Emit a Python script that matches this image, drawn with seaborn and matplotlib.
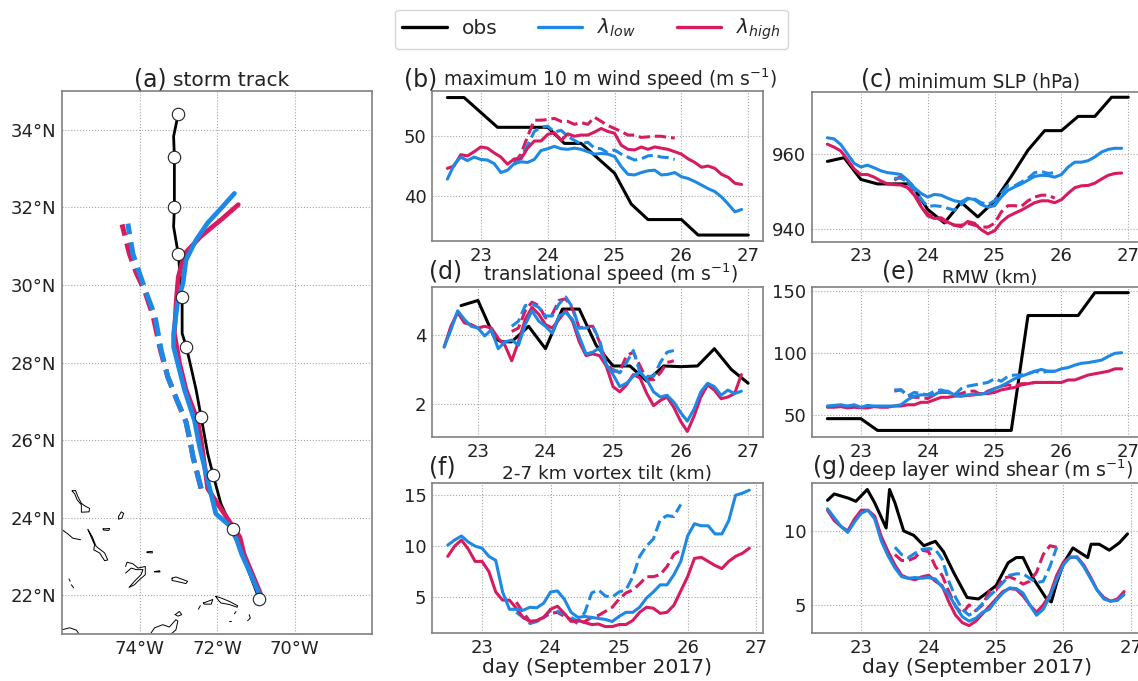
"""Storm track and intensity panels, lambda_low / lambda_high runs vs obs."""

import matplotlib.pyplot as plt
import seaborn as sns

BLUE = "#1E88E5"
RED = "#D81B60"
W, H = 1138, 681

sim_days = [22.5, 22.6, 22.7, 22.8, 22.9, 23.0, 23.1, 23.2, 23.3, 23.4, 23.5, 23.6, 23.7, 23.8, 23.9,
            24.0, 24.1, 24.2, 24.3, 24.4, 24.5, 24.6, 24.7, 24.8, 24.9, 25.0, 25.1, 25.2, 25.3, 25.4,
            25.5, 25.6, 25.7, 25.8, 25.9, 26.0, 26.1, 26.2, 26.3, 26.4, 26.5, 26.6, 26.7, 26.8, 26.9]
fcst_days = [23.5, 23.6, 23.7, 23.8, 23.9, 24.0, 24.1, 24.2, 24.3, 24.4, 24.5, 24.6, 24.7, 24.8, 24.9,
             25.0, 25.1, 25.2, 25.3, 25.4, 25.5, 25.6, 25.7, 25.8, 25.9]
obs_days = [22.5, 22.75, 23.0, 23.25, 23.5, 23.75, 24.0, 24.25, 24.5, 24.75, 25.0, 25.25, 25.5, 25.75,
            26.0, 26.25, 26.5, 26.75, 27.0]

# (a) track
obs_lon = [-70.91, -71.6, -71.9, -72.1, -72.24, -72.41, -72.54, -72.79, -72.9, -72.9, -72.97, -73.0,
           -73.12, -73.1, -73.1, -73.12, -73.0]
obs_lat = [21.9, 23.7, 24.36, 25.1, 25.65, 26.6, 27.3, 28.4, 28.75, 29.69, 30.47, 30.8, 31.5, 32.0,
           33.31, 33.83, 34.41]
daily_lon = [-70.91, -71.6, -72.1, -72.41, -72.79, -72.9, -73.0, -73.1, -73.1, -73.0]
daily_lat = [21.9, 23.7, 25.1, 26.6, 28.4, 29.69, 30.8, 32.0, 33.31, 34.41]
low_lon = [-70.87, -71.21, -71.36, -71.5, -71.68, -72.03, -72.2, -72.45, -72.58, -72.84, -73.01, -73.12,
           -73.12, -73.01, -72.88, -72.8, -72.54, -72.24, -71.9, -71.55]
low_lat = [21.94, 22.72, 23.05, 23.45, 23.8, 24.1, 24.8, 25.83, 26.5, 27.3, 27.97, 28.4, 28.75, 29.6,
           30.03, 30.64, 31.16, 31.6, 31.97, 32.36]
high_lon = [-70.82, -71.3, -71.41, -71.98, -72.24, -72.41, -72.5, -72.8, -72.97, -73.1, -73.05, -73.0,
            -72.84, -72.42, -71.85, -71.45]
high_lat = [21.9, 23.05, 23.5, 24.35, 24.75, 26.0, 26.5, 27.3, 28.0, 28.75, 29.6, 30.2, 30.8, 31.25,
            31.72, 32.07]
low_f_lon = [-72.41, -72.62, -72.7, -72.8, -73.05, -73.27, -73.44, -73.6, -73.79, -74.0, -74.17, -74.3]
low_f_lat = [24.75, 25.57, 26.0, 26.47, 27.07, 27.63, 28.32, 29.2, 29.7, 30.3, 30.8, 31.58]
high_f_lon = [-72.41, -72.62, -72.7, -72.8, -73.05, -73.27, -73.46, -73.65, -73.87, -74.08, -74.26, -74.45]
high_f_lat = [24.75, 25.57, 26.0, 26.47, 27.07, 27.63, 28.32, 29.2, 29.86, 30.3, 30.8, 31.56]

islands = [
    ([-75.74, -75.65, -75.59, -75.5, -75.39, -75.29, -75.3, -75.5, -75.5, -75.61, -75.67, -75.74],
     [24.69, 24.70, 24.54, 24.37, 24.29, 24.24, 24.15, 24.14, 24.33, 24.46, 24.61, 24.69]),
    ([-74.54, -74.47, -74.41, -74.45, -74.54, -74.54], [24.03, 24.15, 24.11, 23.99, 23.96, 24.03]),
    ([-76.0, -75.85, -75.72, -75.52], [23.69, 23.58, 23.47, 23.43]),
    ([-75.33, -75.22, -75.12, -74.9, -74.82, -74.9, -75.03, -75.18, -75.16, -75.33],
     [23.69, 23.51, 23.26, 23.09, 22.91, 22.89, 23.09, 23.17, 23.3, 23.69]),
    ([-74.94, -74.77, -74.79, -74.93, -74.94], [23.71, 23.72, 23.67, 23.68, 23.71]),
    ([-73.81, -73.67, -73.67, -73.81], [23.12, 23.13, 23.09, 23.1]),
    ([-74.36, -74.32, -74.17, -74.04, -73.85, -73.85, -74.0, -74.13, -74.27, -74.13, -73.96, -73.91, -74.09,
      -74.21, -74.36],
     [22.74, 22.85, 22.81, 22.7, 22.74, 22.53, 22.4, 22.27, 22.2, 22.36, 22.53, 22.66, 22.66, 22.7, 22.57]),
    ([-73.61, -73.48, -73.47, -73.61], [22.61, 22.63, 22.6, 22.6]),
    ([-73.16, -73.06, -72.76, -72.8, -73.06, -73.16, -73.16], [22.44, 22.47, 22.36, 22.3, 22.36, 22.38, 22.44]),
    ([-75.82, -75.79], [22.42, 22.36]),
    ([-75.76, -75.7], [22.27, 22.19]),
    ([-72.48, -72.43], [21.64, 21.73]),
    ([-72.35, -72.24, -72.11, -72.15, -72.33, -72.35], [21.8, 21.84, 21.89, 21.77, 21.77, 21.8]),
    ([-72.03, -71.9, -71.68, -71.47, -71.48, -71.68, -71.9, -71.98, -72.03],
     [21.97, 21.93, 21.84, 21.73, 21.69, 21.76, 21.8, 21.89, 21.97]),
    ([-71.55, -71.51], [21.52, 21.58]),
    ([-71.17, -71.14, -71.21], [21.5, 21.41, 21.34]),
    ([-71.7, -71.64], [21.33, 21.33]),
    ([-73.08, -72.97, -72.91, -73.01, -73.08], [21.5, 21.58, 21.5, 21.46, 21.5]),
    ([-73.7, -73.61, -73.4, -73.23, -73.06, -73.01, -73.06, -73.18],
     [21.03, 21.16, 21.24, 21.18, 21.37, 21.33, 21.11, 21.0]),
    ([-76.0, -75.8, -75.63, -75.56], [21.11, 21.16, 21.1, 21.0]),
]

# (b) maximum 10 m wind speed
wind_obs = [56.5, 56.5, 54.0, 51.5, 51.5, 51.5, 51.5, 48.8, 48.8, 46.3, 43.8, 38.6, 36.0, 36.0, 36.0,
            33.4, 33.4, 33.4, 33.4]
wind_low = [42.8, 45.2, 46.5, 45.9, 46.5, 46.1, 46.0, 45.4, 43.9, 44.3, 45.4, 45.7, 45.6, 46.1, 47.6,
            47.9, 48.3, 47.9, 47.8, 48.0, 47.8, 47.4, 47.0, 47.1, 47.0, 46.6, 44.9, 43.6, 43.5, 43.9,
            44.2, 44.3, 43.5, 43.6, 43.9, 43.2, 42.9, 42.4, 41.8, 41.2, 40.7, 39.8, 38.6, 37.3, 37.7]
wind_high = [44.6, 45.0, 46.9, 46.7, 47.4, 48.2, 48.0, 47.2, 46.5, 45.3, 46.2, 46.2, 48.0, 49.2, 49.2,
             50.3, 50.6, 49.3, 50.4, 50.0, 50.2, 50.2, 50.7, 51.3, 50.8, 50.5, 48.5, 47.8, 47.7, 48.2,
             47.8, 48.2, 48.0, 47.8, 47.4, 47.0, 46.2, 45.6, 44.8, 45.0, 44.6, 43.6, 43.1, 42.1, 41.9]
wind_low_f = [45.2, 46.5, 48.5, 50.8, 51.5, 51.7, 50.7, 51.0, 50.0, 49.3, 48.7, 49.0, 48.0, 47.9, 47.2,
              47.7, 47.0, 46.5, 46.0, 46.2, 46.7, 46.8, 46.5, 46.4, 46.1]
wind_high_f = [45.5, 47.0, 50.0, 52.7, 52.7, 52.8, 53.0, 52.5, 52.5, 52.0, 52.3, 52.0, 53.2, 52.5, 51.8,
               51.3, 50.8, 50.2, 50.2, 49.8, 49.9, 50.0, 50.0, 49.8, 49.7]

# (c) minimum SLP
slp_obs = [958, 959, 953.2, 952, 952, 952, 945.2, 941.6, 947.1, 943.2, 947.4, 954, 961, 966.2, 966.2,
           970, 970, 975.1, 975.1]
slp_low = [964.3, 964, 962.5, 960, 957.5, 956.5, 957, 956.3, 955.5, 955, 954.8, 954.5, 953, 951, 949.5,
           948.5, 949.2, 949.0, 948.2, 947.5, 947.2, 948.2, 947.8, 946.5, 945.8, 946.2, 948.5, 950.3, 951.2, 952,
           953, 954, 954.3, 954.2, 953.8, 954.5, 956.5, 957.8, 957.8, 958.2, 959.2, 960.5, 961.2, 961.5, 961.5]
slp_high = [962.6, 961.8, 960.8, 958.5, 956, 954.5, 954.5, 953.8, 952.8, 952, 951.8, 951.7, 951, 949, 946,
            943.5, 942.8, 943, 941.8, 941, 940.6, 942, 941.5, 939.8, 938.7, 939.5, 941.8, 943.3, 944.2, 945,
            946, 947, 947.5, 947.5, 947, 947.8, 949.5, 951, 951.5, 951.6, 952.2, 953.3, 954.3, 954.8, 954.9]
slp_low_f = [953.5, 953.5, 952.5, 950.5, 948, 946, 946.2, 946, 945.5, 945, 946.5, 948, 948, 947, 946.5,
             947.5, 949.5, 951.5, 951.5, 952.5, 953.5, 955, 955.3, 954.8, 955]
slp_high_f = [953, 954, 952.5, 950, 946, 944, 943, 942.5, 941.5, 941, 941, 941.5, 941, 940.5, 940.5,
              941.5, 944.5, 946.2, 946.2, 946, 947.5, 948.5, 949, 949, 948.2]

# (d) translational speed
speed_obs_days = [22.75, 23.0, 23.25, 23.35, 23.5, 23.75, 24.0, 24.25, 24.5, 24.75, 25.0, 25.25, 25.5,
                  25.75, 26.0, 26.25, 26.5, 26.75, 27.0]
speed_obs = [4.85, 5.0, 3.9, 3.8, 3.8, 4.25, 3.6, 4.75, 4.75, 3.7, 3.1, 3.1, 2.66, 3.1, 3.08, 3.1, 3.6, 3.0, 2.6]
speed_low = [3.65, 4.15, 4.7, 4.45, 4.25, 4.2, 3.97, 4.15, 3.6, 3.8, 3.85, 3.7, 4.3, 4.7, 4.4,
             4.25, 4.05, 4.55, 4.65, 4.45, 3.95, 3.45, 3.5, 3.62, 3.15, 2.85, 2.5, 2.6, 2.8, 2.93,
             2.7, 2.35, 2.2, 2.25, 2.05, 1.75, 1.5, 1.85, 2.35, 2.6, 2.5, 2.25, 2.4, 2.3, 2.37]
speed_high = [3.65, 4.25, 4.65, 4.35, 4.3, 4.2, 4.25, 4.2, 3.9, 3.7, 3.25, 3.8, 4.45, 4.8, 4.6,
              4.3, 4.2, 4.45, 4.7, 4.4, 3.8, 3.4, 3.45, 3.4, 3.1, 2.5, 2.35, 2.55, 2.85, 2.75,
              2.3, 1.95, 2.1, 2.2, 1.9, 1.5, 1.2, 1.65, 2.2, 2.55, 2.4, 2.15, 2.2, 2.3, 2.85]
speed_low_f = [4.25, 4.4, 4.85, 4.9, 4.8, 4.55, 4.55, 4.9, 5.1, 4.8, 4.2, 4.2, 4.25, 3.85, 3.1,
               3.0, 2.9, 3.2, 3.55, 2.9, 2.8, 2.8, 3.2, 3.5, 3.55]
speed_high_f = [4.1, 4.2, 4.7, 4.95, 4.85, 4.5, 4.6, 5.0, 5.05, 4.75, 4.2, 4.25, 4.25, 3.8, 3.2,
                2.95, 2.95, 3.4, 3.5, 3.1, 2.7, 2.7, 2.9, 3.2, 3.25]

# (e) RMW
rmw_obs = [46.8, 46.8, 46.8, 37.3, 37.3, 37.3, 37.3, 37.3, 37.3, 37.3, 37.3, 37.3, 130, 130, 130, 130,
           148.4, 148.4, 148.4]
rmw_low = [57, 57.5, 58, 57, 58, 56, 57.5, 57, 57, 57, 57, 58, 62, 65, 66,
           66, 66, 69, 69, 66, 65, 66, 66.5, 66.5, 68, 71, 73, 76, 79, 81,
           83, 85, 86.5, 85, 85, 87, 88, 90, 91.5, 92, 93, 94, 97, 99.5, 100]
rmw_high = [56, 56, 56.5, 55.5, 56, 55.5, 55.5, 56.5, 56, 56, 57, 57, 58, 58, 60,
            60, 62, 64, 64, 65, 65, 65.5, 66, 67, 67, 68, 70, 71, 72, 74,
            75, 76, 76, 76, 76, 76, 78, 78, 80, 82, 83, 84, 85, 87, 87]
rmw_low_f = [70, 70, 65, 68, 67, 66, 69, 70, 68, 66, 71, 73, 74, 75, 76,
             79, 77, 81, 82, 82, 83, 85, 84, 85, 85]
rmw_high_f = [69, 70, 66, 64, 64, 63, 66, 68, 68, 66, 67, 69, 69, 66, 69,
              71, 73, 74, 73, 75, 75, 76, 76, 76, 76]

# (f) vortex tilt
tilt_low = [10.1, 10.6, 11, 10.4, 10, 9.8, 9, 8.6, 5.5, 3.8, 3.8, 3.7, 4, 3.95, 4.4,
            5.5, 5.6, 4.8, 3.5, 3, 3.1, 3, 2.9, 2.8, 2.6, 3.1, 3.5, 3.5, 4, 4.9,
            5.5, 6.2, 6.2, 7.2, 8.5, 11, 12.2, 12, 12, 11.2, 11.2, 12.5, 15, 15.2, 15.5]
tilt_high = [9, 10, 10.6, 9.7, 8.5, 8.5, 7.5, 5.5, 4.7, 4.7, 3.9, 3, 2.6, 2.7, 3,
             3.8, 4.1, 3.4, 2.6, 2.7, 2.5, 2.3, 2.35, 2.1, 2.1, 2.3, 2.3, 2.7, 3.5, 4,
             3.9, 3.4, 3.5, 4.2, 5.6, 7, 8.8, 8.9, 8.5, 8.1, 7.8, 8.5, 9, 9.3, 9.8]
tilt_low_f = [3.5, 3.0, 2.4, 2.6, 3, 3.7, 3.6, 3.3, 3, 2.6, 3.5, 5.4, 5.7, 5.1, 5,
              5.5, 5.7, 7, 9, 10, 10.7, 12.6, 13, 12.9, 14.1]
tilt_high_f = [4.5, 3.5, 2.6, 2.7, 3, 3.4, 3.5, 3.1, 2.8, 2.4, 2.6, 3, 3.2, 3.6, 4,
               4.8, 5.4, 5.7, 6.3, 7, 7, 7.2, 8, 9.2, 9.6]

# (g) deep layer wind shear
shear_obs_days = [22.5, 22.6, 22.82, 22.92, 23.09, 23.2, 23.37, 23.42, 23.5, 23.63, 23.78, 23.93, 24.1,
                  24.22, 24.37, 24.57, 24.74, 24.86, 25.0, 25.18, 25.3, 25.4, 25.55, 25.75, 25.82, 25.9,
                  26.0, 26.14, 26.36, 26.41, 26.53, 26.68, 26.83, 26.95]
shear_obs = [12.07, 12.5, 12.2, 12.0, 12.8, 11.9, 10.2, 12.8, 11.9, 10.0, 9.7, 9.0, 9.3, 8.6, 7.2, 5.5,
             5.4, 5.8, 6.3, 7.85, 8.2, 8.2, 6.8, 5.4, 5.2, 6.5, 7.8, 8.85, 8.2, 9.1, 9.1, 8.7, 9.2, 9.8]
shear_low = [11.5, 10.9, 10.3, 9.9, 10.6, 11.2, 11.4, 10.8, 9.3, 8.3, 7.5, 6.9, 6.8, 6.85, 6.8,
             6.85, 6.75, 6.2, 5.7, 4.9, 4.2, 3.9, 4.1, 4.5, 4.7, 5.3, 5.8, 6.15, 6.1, 5.8,
             5, 4.3, 4.7, 5.6, 6.7, 7.7, 8.25, 8.2, 7.6, 6.8, 6, 5.4, 5.25, 5.3, 5.7]
shear_high = [11.4, 10.7, 10.3, 10, 10.8, 11.4, 11.4, 11, 9.6, 8.6, 7.7, 7, 6.8, 6.7, 6.9,
              7, 6.6, 6.3, 5.2, 4.3, 3.8, 3.6, 3.9, 4.4, 4.9, 5.4, 5.9, 6.1, 6.05, 5.6,
              5, 4.5, 5, 5.7, 7, 7.9, 8.2, 8.25, 7.7, 6.9, 6, 5.5, 5.25, 5.4, 5.9]
shear_low_f = [8.9, 8.4, 8.2, 8.5, 8.75, 8.8, 8.75, 8.1, 6.6, 5.5, 4.7, 4.3, 4.6, 5.1, 5.6,
               6, 6.5, 7, 7.1, 7.1, 6.8, 6.5, 6.6, 7.6, 8.9]
shear_high_f = [8.4, 8, 8, 8.2, 8.7, 8.6, 7.6, 7, 5.9, 4.9, 4.4, 5, 4.6, 5, 5.9,
                6, 6.8, 6.9, 6.7, 6.4, 6.6, 7.2, 8.4, 9, 8.9]

sns.set_theme(style="whitegrid")
plt.rcParams["font.family"] = "DejaVu Sans"
plt.rcParams["axes.edgecolor"] = "#808080"
plt.rcParams["axes.linewidth"] = 1.2
plt.rcParams["grid.color"] = "#a6a6a6"
plt.rcParams["grid.linestyle"] = ":"
plt.rcParams["grid.linewidth"] = 0.8
plt.rcParams["xtick.labelsize"] = 13
plt.rcParams["ytick.labelsize"] = 13
plt.rcParams["xtick.color"] = "#222222"
plt.rcParams["ytick.color"] = "#222222"

fig = plt.figure(figsize=(W / 100, H / 100), dpi=100)


def panel_axes(left, right, top, bottom):
    return fig.add_axes([left / W, 1 - bottom / H, (right - left) / W, (bottom - top) / H])


def line(ax, x, y, color, lw=2.2, dashed=False):
    sns.lineplot(x=x, y=y, color=color, lw=lw, ls="--" if dashed else "-", ax=ax,
                 estimator=None, sort=False, legend=False)


def put_text(x, y, s, size):
    fig.text(x / W, 1 - y / H, s, fontsize=size, ha="left", va="baseline", color="#222222")


def time_panel(box, xlim, ylim, yticks, days, obs, low, high, low_f, high_f):
    ax = panel_axes(*box)
    line(ax, days, obs, "black")
    line(ax, fcst_days, high_f, RED, dashed=True)
    line(ax, fcst_days, low_f, BLUE, dashed=True)
    line(ax, sim_days, high, RED)
    line(ax, sim_days, low, BLUE)
    ax.set_xlim(*xlim)
    ax.set_ylim(*ylim)
    ax.set_xticks([23, 24, 25, 26, 27])
    ax.set_yticks(yticks)
    ax.set_xlabel("")
    ax.set_ylabel("")
    ax.tick_params(length=0, pad=4)
    return ax


# (a)
ax_a = panel_axes(62, 372, 91, 634)
for lon, lat in islands:
    line(ax_a, lon, lat, "black", lw=0.7)
line(ax_a, obs_lon, obs_lat, "black", lw=2.0)
line(ax_a, high_f_lon, high_f_lat, RED, lw=3.6, dashed=True)
line(ax_a, low_f_lon, low_f_lat, BLUE, lw=3.6, dashed=True)
line(ax_a, high_lon, high_lat, RED, lw=3.4)
line(ax_a, low_lon, low_lat, BLUE, lw=3.4)
sns.scatterplot(x=daily_lon, y=daily_lat, s=80, color="white", edgecolor="#222222", linewidth=0.8,
                ax=ax_a, zorder=5, legend=False)
ax_a.set_xlim(-76, -68)
ax_a.set_ylim(21, 35)
ax_a.set_xticks([-74, -72, -70], ["74°W", "72°W", "70°W"])
ax_a.set_yticks([22, 24, 26, 28, 30, 32, 34], ["22°N", "24°N", "26°N", "28°N", "30°N", "32°N", "34°N"])
ax_a.tick_params(length=0, pad=4)

ax_b = time_panel((432, 763, 91, 241), (22.27, 27.22), (32.4, 57.6), [40, 50], obs_days, wind_obs,
                  wind_low, wind_high, wind_low_f, wind_high_f)
time_panel((812, 1143, 92, 241.7), (22.27, 27.22), (936.6, 976.5), [940, 960], obs_days, slp_obs,
           slp_low, slp_high, slp_low_f, slp_high_f)
time_panel((432, 763, 287, 437), (22.32, 27.22), (1.04, 5.39), [2, 4], speed_obs_days, speed_obs,
           speed_low, speed_high, speed_low_f, speed_high_f)
time_panel((812, 1143, 287, 437), (22.27, 27.22), (32, 153), [50, 100, 150], obs_days, rmw_obs,
           rmw_low, rmw_high, rmw_low_f, rmw_high_f)
ax_f = panel_axes(432, 763, 483, 633)
line(ax_f, fcst_days, tilt_high_f, RED, dashed=True)
line(ax_f, fcst_days, tilt_low_f, BLUE, dashed=True)
line(ax_f, sim_days, tilt_high, RED)
line(ax_f, sim_days, tilt_low, BLUE)
ax_f.set_xlim(22.27, 27.1)
ax_f.set_ylim(1.47, 16.2)
ax_f.set_xticks([23, 24, 25, 26, 27])
ax_f.set_yticks([5, 10, 15])
ax_f.set_xlabel("day (September 2017)", fontsize=14.6, labelpad=1, color="#222222")
ax_f.tick_params(length=0, pad=4)
ax_g = time_panel((812, 1143, 483, 633), (22.27, 27.18), (3.1, 13.24), [5, 10], shear_obs_days, shear_obs,
                  shear_low, shear_high, shear_low_f, shear_high_f)
ax_g.set_xlabel("day (September 2017)", fontsize=14.6, labelpad=1, color="#222222")

# panel letters and titles
put_text(134, 86, "(a)", 17)
put_text(173, 86, "storm track", 14.5)
put_text(404, 86, "(b)", 17)
put_text(443, 86, r"maximum 10 m wind speed (m s$^{-1}$)", 13.4)
put_text(861, 86, "(c)", 17)
put_text(898, 87, "minimum SLP (hPa)", 13.4)
put_text(429, 278, "(d)", 17)
put_text(483, 281, r"translational speed (m s$^{-1}$)", 13.5)
put_text(882, 278, "(e)", 17)
put_text(942, 283, "RMW (km)", 13.2)
put_text(429, 475, "(f)", 17)
put_text(502, 479, "2-7 km vortex tilt (km)", 13.3)
put_text(813, 474, "(g)", 17)
put_text(848, 477, r"deep layer wind shear (m s$^{-1}$)", 13.6)

handles = [plt.Line2D([], [], color="black", lw=2.4),
           plt.Line2D([], [], color=BLUE, lw=2.4),
           plt.Line2D([], [], color=RED, lw=2.4)]
fig.legend(handles, ["obs", r"$\lambda_{low}$", r"$\lambda_{high}$"], ncol=3, loc="center",
           bbox_to_anchor=(591.5 / W, 1 - 29.5 / H), fontsize=14.5, frameon=True, fancybox=True,
           columnspacing=2.0, handlelength=2.2, handletextpad=0.75, borderpad=0.35)

fig.savefig("out.png", dpi=100)
plt.close(fig)
